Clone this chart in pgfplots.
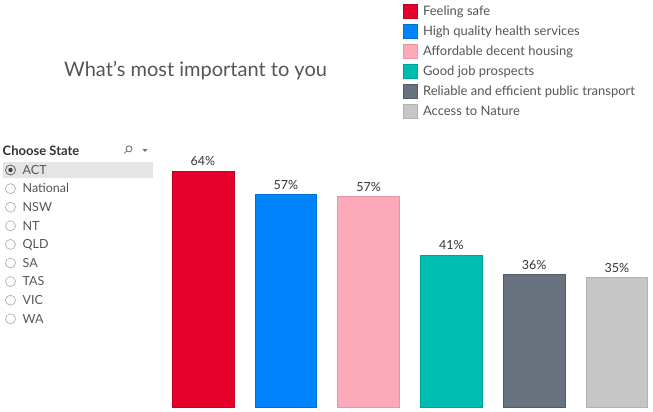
\documentclass[border=0pt]{standalone}
\usepackage{fontspec}
\setmainfont{Lato}
\usepackage{pgfplots}
\pgfplotsset{compat=1.18}
\definecolor{cRed}{HTML}{E4002B}
\definecolor{cBlue}{HTML}{0084FC}
\definecolor{cPink}{HTML}{FCA9B9}
\definecolor{cTeal}{HTML}{00BDB1}
\definecolor{cSlate}{HTML}{68737F}
\definecolor{cGray}{HTML}{C6C6C6}
\definecolor{txt}{HTML}{555555}
\definecolor{dark}{HTML}{333333}
\pgfplotsset{sqlegend/.style={legend image code/.code={\fill[##1] (0bp,-7bp) rectangle (14bp,7bp);}}}

\begin{document}
\begin{tikzpicture}[x=1bp,y=1bp]
\useasboundingbox (0,0) rectangle (653,411);

% title
\node[anchor=base west,inner sep=0pt,text=txt,font=\fontsize{20bp}{24bp}\selectfont] at (64,334.3) {What’s most important to you};

% state filter panel
\node[anchor=base west,inner sep=0pt,text=dark,font=\fontsize{13bp}{15bp}\selectfont\bfseries] at (2.5,256) {Choose State};
\draw[black!55,line width=0.9bp] (129,262.2) circle (3);
\draw[black!55,line width=0.9bp] (126.9,260.1) -- (124.4,257.6);
\fill[black!55] (142.5,262) -- (147.5,262) -- (145,259) -- cycle;
\fill[black!10] (3.3,249.3) rectangle (152.7,232.7);
\foreach \st [count=\i from 0] in {ACT,National,NSW,NT,QLD,SA,TAS,VIC,WA} {
  \pgfmathsetmacro{\yc}{411-170-18.6*\i}
  \draw[black!35,line width=0.6bp] (10.5,\yc) circle (5);
  \node[anchor=base west,inner sep=0pt,text=txt,font=\fontsize{12.5bp}{14bp}\selectfont] at (22.5,\yc-4.3) {\st};
}
\draw[black!60,line width=0.7bp] (10.5,241) circle (5);
\fill[black!75] (10.5,241) circle (2.2);

\begin{axis}[
  at={(161.6bp,4bp)},anchor=south west,
  scale only axis,width=488.4bp,height=259bp,
  xmin=-0.5,xmax=5.4,ymin=0,ymax=70,
  hide axis,clip=false,
  bar width=0.745,
  /pgf/number format/assume math mode=true,
  every axis plot/.append style={ybar,bar shift=0pt,line width=0.6bp,sqlegend},
  nodes near coords={\pgfmathprintnumber[fixed,precision=0]{\pgfplotspointmeta}\%},
  every node near coord/.append style={anchor=base,yshift=5bp,inner sep=0pt,text=dark,font=\fontsize{12.5bp}{14bp}\selectfont},
  legend style={at={(0.4937,1.5558)},anchor=north west,draw=none,fill=none,inner sep=0pt,
    row sep=5.4bp,nodes={inner sep=0pt,text=txt,font=\fontsize{13bp}{15bp}\selectfont},
    /tikz/every odd column/.append style={column sep=5.5bp}},
  legend cell align=left
]
\addplot[fill=cRed,draw=cRed!85!black] coordinates {(0,63.8)};
\addlegendentry{Feeling safe}
\addplot[fill=cBlue,draw=cBlue!85!black] coordinates {(1,57.4)};
\addlegendentry{High quality health services}
\addplot[fill=cPink,draw=cPink!90!black] coordinates {(2,56.9)};
\addlegendentry{Affordable decent housing}
\addplot[fill=cTeal,draw=cTeal!85!black] coordinates {(3,41.1)};
\addlegendentry{Good job prospects}
\addplot[fill=cSlate,draw=cSlate!80!black] coordinates {(4,35.9)};
\addlegendentry{Reliable and efficient public transport}
\addplot[fill=cGray,draw=cGray!90!black] coordinates {(5,35.0)};
\addlegendentry{Access to Nature}
\end{axis}
\end{tikzpicture}
\end{document}
